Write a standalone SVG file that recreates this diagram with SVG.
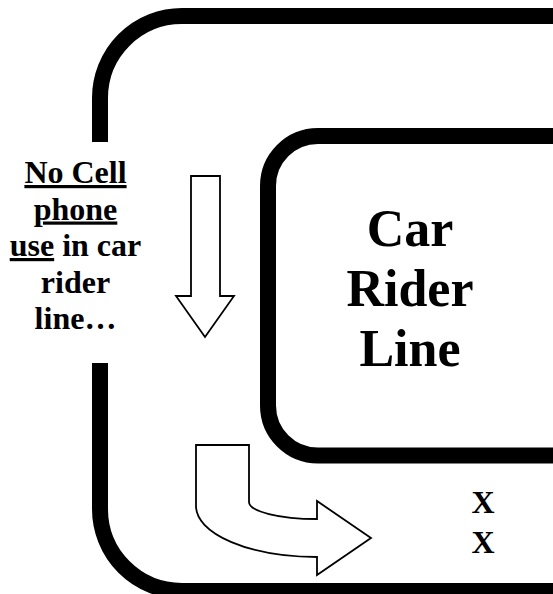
<svg xmlns="http://www.w3.org/2000/svg" width="553" height="594" viewBox="0 0 553 594">
<style>
.road{fill:none;stroke:#000;stroke-width:16;stroke-linecap:butt}
.arrow{fill:#fff;stroke:#000;stroke-width:1.8;stroke-linejoin:miter}
.t{font-family:"Liberation Serif","Times New Roman",serif;font-weight:bold;fill:#000;text-anchor:middle}
.u{text-decoration:underline}
</style>
<rect width="553" height="594" fill="#fff"/>
<g id="outer-loop">
<path class="road" d="M100,142 L100,98 A82,82 0 0 1 182,16 L620,16"/>
<path class="road" d="M100,363 L100,509 A82,82 0 0 0 182,591 L620,591"/>
</g>
<g id="car-rider-line">
<rect class="road" x="268" y="136" width="400" height="319.5" rx="50" ry="50"/>
<text class="t" font-size="52"><tspan x="410" y="246">Car</tspan><tspan x="410" y="306">Rider</tspan><tspan x="410" y="366">Line</tspan></text>
</g>
<g id="notice">
<text class="t" font-size="32"><tspan x="75.5" y="183" class="u">No Cell</tspan><tspan x="75.5" y="219.5" class="u">phone</tspan><tspan x="75.5" y="256"><tspan class="u">use</tspan> in car</tspan><tspan x="75.5" y="292.5">rider</tspan><tspan x="75.5" y="329">line…</tspan></text>
</g>
<g id="marks">
<text class="t" font-size="32"><tspan x="483" y="513">X</tspan><tspan x="483" y="553">X</tspan></text>
</g>
<g id="connectors">
<polygon class="arrow" points="191,176 220,176 220,296 234,296 205,337 176,296 191,296"/>
<path class="arrow" d="M196,445 L249,445 L249,502 A68,17 0 0 0 317,519 L317,501 L371,538 L317,575 L317,557 A121,51 0 0 1 196,506 Z"/>
</g>
</svg>
